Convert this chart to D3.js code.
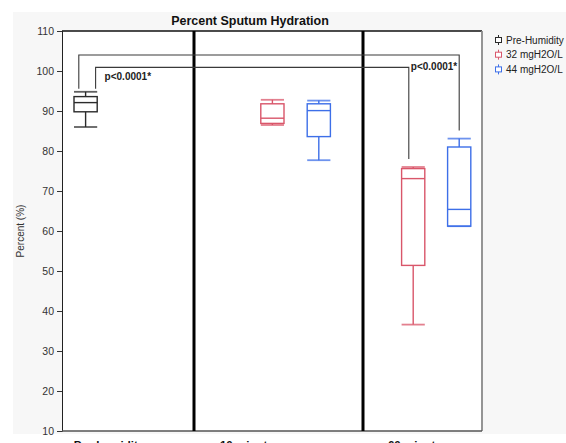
<!DOCTYPE html>
<html>
<head>
<meta charset="utf-8">
<script src="https://cdn.jsdelivr.net/npm/d3@7"></script>
<style>
  html, body { margin: 0; padding: 0; background: #ffffff; }
  svg { display: block; font-family: "Liberation Sans", Arial, sans-serif; }
</style>
</head>
<body>
<svg id="chart" width="566" height="443"></svg>
<script>
// ---- data ----
const groups = ["Pre-humidity", "10 minutes", "60 minutes"];
const seriesNames = ["Pre-Humidity", "32 mgH2O/L", "44 mgH2O/L"];
const yTicks = [10, 20, 30, 40, 50, 60, 70, 80, 90, 100, 110];

// box statistics: [lower whisker, Q1, median, Q3, upper whisker]
const preHumidityBox = [86.0, 89.8, 92.1, 93.6, 94.8];
const mg32Min10Box = [86.5, 86.9, 88.2, 91.8, 92.8];
const mg44Min10Box = [77.7, 83.6, 90.1, 91.8, 92.6];
const mg32Min60Box = [36.6, 51.4, 73.1, 75.6, 76.0];
const mg44Min60Box = [61.2, 61.2, 65.4, 81.0, 83.1];

const pLabels = ["p<0.0001*", "p<0.0001*"];

// ---- layout ----
const W = 566, H = 443;
const plot = { left: 62, right: 482, top: 31, bottom: 431 };
const colors = { "Pre-Humidity": "#2b2b2b", "32 mgH2O/L": "#d9566a", "44 mgH2O/L": "#3d6fe8" };

// horizontal positions in slot units across the plot frame
const slot = d3.scaleLinear().domain([0, 10.5]).range([plot.left, plot.right]);
const groupEdges = [0, 3.3, 7.525, 10.5];
const labelSlot = [1.175, 4.7, 8.9];
const boxHalf = 0.29;

const boxes = [
  { group: groups[0], series: seriesNames[0], stats: preHumidityBox, pos: 0.59 },
  { group: groups[1], series: seriesNames[1], stats: mg32Min10Box, pos: 5.26 },
  { group: groups[1], series: seriesNames[2], stats: mg44Min10Box, pos: 6.42 },
  { group: groups[2], series: seriesNames[1], stats: mg32Min60Box, pos: 8.78 },
  { group: groups[2], series: seriesNames[2], stats: mg44Min60Box, pos: 9.93 }
];

const y = d3.scaleLinear().domain([10, 110]).range([plot.bottom, plot.top]);

const svg = d3.select("#chart");

// panel background
svg.append("rect").attr("x", 13).attr("y", 12).attr("width", W - 13).attr("height", 422)
  .attr("fill", "#f7f7f7");
svg.append("rect").attr("x", plot.left).attr("y", plot.top)
  .attr("width", plot.right - plot.left).attr("height", plot.bottom - plot.top)
  .attr("fill", "#ffffff");

// title
svg.append("text").attr("x", 250).attr("y", 25).attr("text-anchor", "middle")
  .attr("font-size", 12.5).attr("font-weight", "bold").attr("fill", "#111")
  .text("Percent Sputum Hydration");

// y axis
const yAxis = d3.axisLeft(y).tickValues(yTicks).tickSize(5).tickPadding(3);
const gy = svg.append("g").attr("transform", `translate(${plot.left},0)`).call(yAxis);
gy.select(".domain").attr("stroke", "#222");
gy.selectAll(".tick line").attr("stroke", "#333");
gy.selectAll(".tick text").attr("font-size", 10.5).attr("fill", "#333")
  .attr("font-family", "Liberation Sans, Arial, sans-serif");

svg.append("text")
  .attr("transform", `translate(24,${(plot.top + plot.bottom) / 2}) rotate(-90)`)
  .attr("text-anchor", "middle").attr("font-size", 10).attr("fill", "#333")
  .text("Percent (%)");

// frame borders
svg.append("line").attr("x1", plot.left).attr("x2", plot.right)
  .attr("y1", plot.top).attr("y2", plot.top).attr("stroke", "#111").attr("stroke-width", 1.3);
svg.append("line").attr("x1", plot.right).attr("x2", plot.right)
  .attr("y1", plot.top).attr("y2", plot.bottom).attr("stroke", "#8a8a8a").attr("stroke-width", 1.8);
svg.append("line").attr("x1", plot.left).attr("x2", plot.right)
  .attr("y1", plot.bottom).attr("y2", plot.bottom).attr("stroke", "#555").attr("stroke-width", 1.3);

// group dividers
svg.selectAll("line.divider").data(groupEdges.slice(1, -1)).enter().append("line")
  .attr("class", "divider")
  .attr("x1", d => slot(d)).attr("x2", d => slot(d))
  .attr("y1", plot.top).attr("y2", plot.bottom)
  .attr("stroke", "#000").attr("stroke-width", 3);

// group labels (below the panel)
svg.selectAll("text.group").data(groups).enter().append("text")
  .attr("class", "group")
  .attr("x", (d, i) => slot(labelSlot[i])).attr("y", 449)
  .attr("text-anchor", "middle").attr("font-size", 11.5).attr("font-weight", "bold")
  .attr("fill", "#111").text(d => d);

// significance brackets
const brackets = [
  { from: boxes[0], to: boxes[4], level: 104, fromDx: -0.17, toDx: 0, label: null },
  { from: boxes[0], to: boxes[3], level: 100.9, fromDx: 0.25, toDx: -0.11, label: null }
];
brackets.forEach(b => {
  const x1 = slot(b.from.pos + b.fromDx), x2 = slot(b.to.pos + b.toDx);
  const yl = y(b.level);
  const y1 = y(b.from.stats[4]) - 3, y2 = y(b.to.stats[4]) - 8;
  svg.append("path")
    .attr("d", `M${x1},${y1}V${yl}H${x2}V${y2}`)
    .attr("fill", "none").attr("stroke", "#3a3a3a").attr("stroke-width", 1.1);
});
svg.append("text").attr("x", slot(boxes[0].pos) + 19).attr("y", y(brackets[1].level) + 13)
  .attr("font-size", 10).attr("font-weight", "bold").attr("fill", "#222").text(pLabels[0]);
svg.append("text").attr("x", slot(boxes[3].pos + brackets[1].toDx) + 2).attr("y", y(brackets[1].level) + 2.5)
  .attr("font-size", 10).attr("font-weight", "bold").attr("fill", "#222").text(pLabels[1]);

// box plots
const bg = svg.selectAll("g.box").data(boxes).enter().append("g").attr("class", "box")
  .attr("stroke", d => colors[d.series]).attr("fill", "none").attr("stroke-width", 1.4);
bg.each(function (d) {
  const g = d3.select(this);
  const x0 = slot(d.pos - boxHalf), x1 = slot(d.pos + boxHalf), xc = slot(d.pos);
  const [lo, q1, med, q3, hi] = d.stats;
  g.append("line").attr("x1", xc).attr("x2", xc).attr("y1", y(hi)).attr("y2", y(q3));
  g.append("line").attr("x1", xc).attr("x2", xc).attr("y1", y(q1)).attr("y2", y(lo));
  g.append("line").attr("x1", x0).attr("x2", x1).attr("y1", y(hi)).attr("y2", y(hi))
    .attr("stroke-width", 1.8).attr("stroke-opacity", 0.75);
  g.append("line").attr("x1", x0).attr("x2", x1).attr("y1", y(lo)).attr("y2", y(lo))
    .attr("stroke-width", 1.8).attr("stroke-opacity", 0.75);
  g.append("rect").attr("x", x0).attr("y", y(q3))
    .attr("width", x1 - x0).attr("height", y(q1) - y(q3));
  g.append("line").attr("x1", x0).attr("x2", x1).attr("y1", y(med)).attr("y2", y(med));
});

// legend
const lg = svg.selectAll("g.legend").data(seriesNames).enter().append("g").attr("class", "legend")
  .attr("transform", (d, i) => `translate(495,${40 + i * 14.7})`);
lg.append("line").attr("x1", 3.5).attr("x2", 3.5).attr("y1", -5).attr("y2", 5)
  .attr("stroke", d => colors[d]).attr("stroke-width", 1);
lg.append("rect").attr("x", 0.5).attr("y", -2.5).attr("width", 6).attr("height", 5)
  .attr("fill", "#fff").attr("stroke", d => colors[d]).attr("stroke-width", 1);
lg.append("text").attr("x", 11).attr("y", 3.5).attr("font-size", 10).attr("fill", "#222")
  .text(d => d);
</script>
</body>
</html>
